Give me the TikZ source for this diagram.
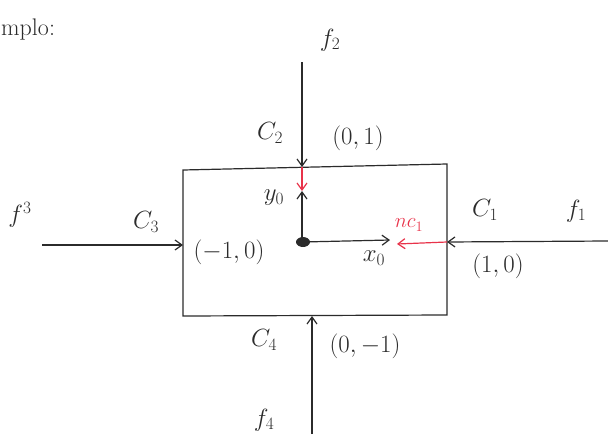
\documentclass[tikz,border=0pt]{standalone}
\usetikzlibrary{arrows.meta}
\definecolor{ink}{HTML}{2B2B2B}
\definecolor{redink}{HTML}{E8334A}
\tikzset{
  lbl/.style={text=ink, inner sep=1pt, font=\fontsize{24}{26}\selectfont},
  rlbl/.style={text=redink, inner sep=1pt, font=\fontsize{20}{22}\selectfont},
  arr/.style={draw=ink, line width=1.2pt, -{Straight Barb[length=7pt,width=10pt]}},
  rarr/.style={draw=redink, line width=1.2pt, -{Straight Barb[length=7pt,width=10pt]}},
  boxline/.style={draw=ink, line width=1.2pt}
}
\begin{document}
\begin{tikzpicture}[x=1pt,y=-1pt]
\useasboundingbox (0,0) rectangle (608,434);
% box
\draw[boxline] (183,170) -- (447,164) -- (447,315) -- (183,316) -- cycle;
% coordinates
\coordinate (f2s) at (302,62);
\coordinate (c2) at (302,167);
\coordinate (ry) at (302,191);
\coordinate (o) at (302,242);
\coordinate (xe) at (390,240);
\coordinate (f1s) at (608,241);
\coordinate (c1) at (447,242);
\coordinate (nce) at (397,244);
\coordinate (f3s) at (42,245);
\coordinate (c3) at (183,245);
\coordinate (f4s) at (312,434);
\coordinate (c4) at (312,316);
% arrows
\draw[arr] (f2s) -- (c2);
\draw[rarr] (c2) -- (ry);
\draw[arr] (o) -- (ry);
\draw[arr] (o) -- (xe);
\draw[arr] (f1s) -- (c1);
\draw[rarr] (c1) -- (nce);
\draw[arr] (f3s) -- (c3);
\draw[arr] (f4s) -- (c4);
\fill[ink] (303,242) ellipse (7pt and 5pt);
% labels
\node[lbl, anchor=west] (ej) at (0,30) {mplo:};
\node[lbl] (lf2) at (330,40) {$f_2$};
\node[lbl] (lc2) at (270,133) {$C_2$};
\node[lbl] (l01) at (358,138) {$(0,1)$};
\node[lbl] (ly0) at (274,198) {$y_0$};
\node[lbl] (lx0) at (374,258) {$x_0$};
\node[rlbl] (lnc) at (409,225) {$nc_1$};
\node[lbl] (lc1) at (485,210) {$C_1$};
\node[lbl] (lf1) at (576,211) {$f_1$};
\node[lbl] (l10) at (498,266) {$(1,0)$};
\node[lbl] (lf3) at (20,215) {$f^3$};
\node[lbl] (lc3) at (146,222) {$C_3$};
\node[lbl] (lm10) at (229,252) {$(-1,0)$};
\node[lbl] (lc4) at (264,340) {$C_4$};
\node[lbl] (l0m1) at (365,346) {$(0,-1)$};
\node[lbl] (lf4) at (264,420) {$f_4$};
\end{tikzpicture}
\end{document}
